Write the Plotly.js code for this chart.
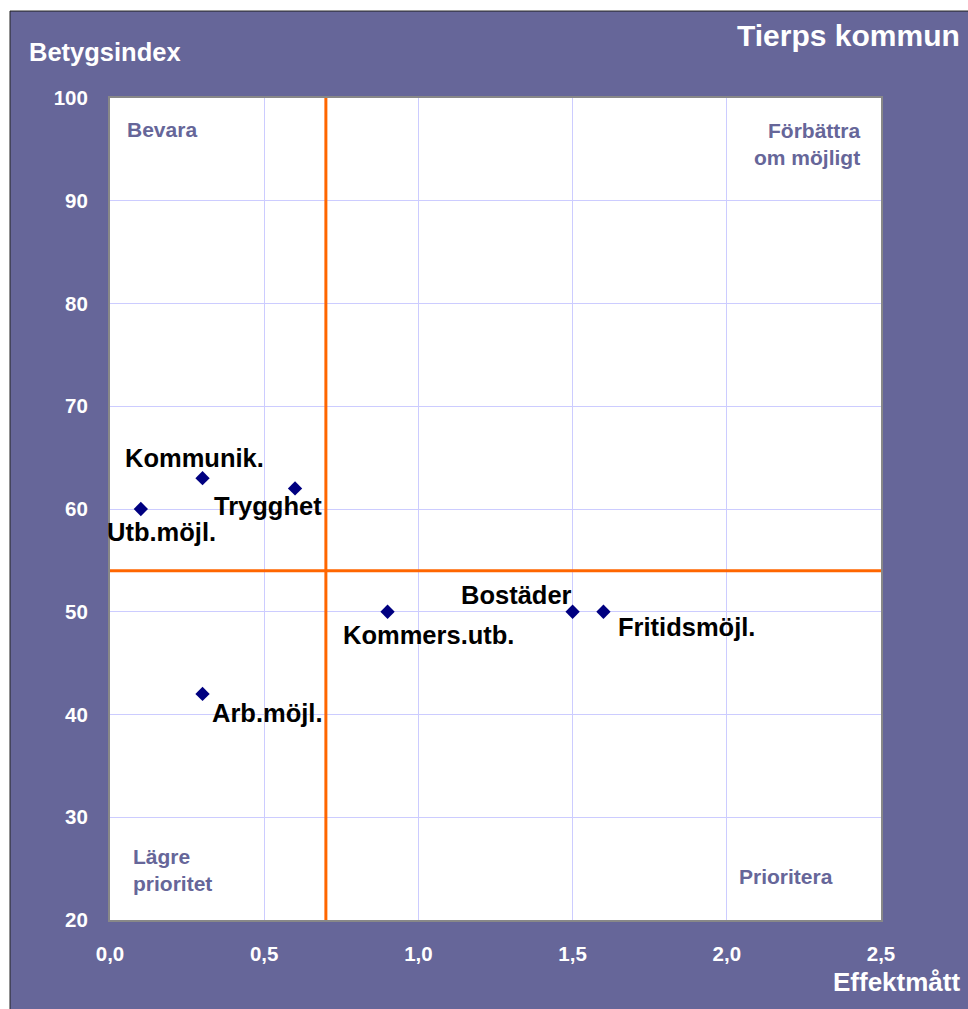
<!DOCTYPE html>
<html>
<head>
<meta charset="utf-8">
<script src="https://cdn.plot.ly/plotly-3.0.1.min.js"></script>
<style>
html,body{margin:0;padding:0;background:#fff;}
#chart{width:968px;height:1009px;}
</style>
</head>
<body>
<div id="chart"></div>
<script>
// Data
var categories = ["Utb.möjl.", "Kommunik.", "Trygghet", "Arb.möjl.", "Kommers.utb.", "Bostäder", "Fritidsmöjl."];
var effektmatt = [0.1, 0.3, 0.6, 0.3, 0.9, 1.5, 1.6];
var betygsindex = [60, 63, 62, 42, 50, 50, 50];
var xTickVals = [0, 0.5, 1.0, 1.5, 2.0, 2.5];
var xTickText = ["0,0", "0,5", "1,0", "1,5", "2,0", "2,5"];
var yTickVals = [20, 30, 40, 50, 60, 70, 80, 90, 100];
var thresholdX = [0.7];
var thresholdY = [54];
var quadrantLabels = ["Bevara", "Förbättra<br>om möjligt", "Lägre<br>prioritet", "Prioritera"];

// label offsets (px) relative to each point
var labelShift = [[21, -23], [-8, 20], [-27, -18], [65, -19], [41, -23], [-56, 17], [83, -15]];

var PURPLE = "#666699";
var FONT = "Liberation Sans, Arial, sans-serif";

var annotations = categories.map(function (c, i) {
  return {
    x: effektmatt[i], y: betygsindex[i], xref: "x", yref: "y",
    text: "<b>" + c + "</b>", showarrow: false,
    xshift: labelShift[i][0], yshift: labelShift[i][1],
    font: {family: FONT, size: 25.5, color: "#000000"}
  };
});

var qPos = [
  {x: 0.0195, y: 0.962, xanchor: "left", align: "left"},
  {x: 0.975, y: 0.9446, xanchor: "right", align: "right"},
  {x: 0.027, y: 0.0608, xanchor: "left", align: "left"},
  {x: 0.9405, y: 0.0535, xanchor: "right", align: "right"}
];
quadrantLabels.forEach(function (t, i) {
  annotations.push({
    x: qPos[i].x, y: qPos[i].y, xref: "paper", yref: "paper",
    xanchor: qPos[i].xanchor, yanchor: "middle", align: qPos[i].align,
    text: "<b>" + t + "</b>", showarrow: false,
    font: {family: FONT, size: 21, color: PURPLE}
  });
});

// axis titles / chart title as annotations
annotations.push({
  x: -0.1077, y: 1.056, xref: "paper", yref: "paper", xanchor: "left", yanchor: "middle",
  text: "<b>Betygsindex</b>", showarrow: false,
  font: {family: FONT, size: 25.5, color: "#ffffff"}
});
annotations.push({
  x: 1.1051, y: 1.0766, xref: "paper", yref: "paper", xanchor: "right", yanchor: "middle",
  text: "<b>Tierps kommun</b>", showarrow: false,
  font: {family: FONT, size: 30, color: "#ffffff"}
});
annotations.push({
  x: 1.1051, y: -0.0754, xref: "paper", yref: "paper", xanchor: "right", yanchor: "middle",
  text: "<b>Effektmått</b>", showarrow: false,
  font: {family: FONT, size: 26, color: "#ffffff"}
});

var shapes = [
  // white strips outside the purple frame
  {type: "rect", xref: "paper", yref: "paper", x0: -0.3, x1: 1.3, y0: 1.1058, y1: 1.3,
   fillcolor: "#ffffff", line: {width: 0}, layer: "below"},
  {type: "rect", xref: "paper", yref: "paper", x0: -0.3, x1: -0.1297, y0: -0.3, y1: 1.3,
   fillcolor: "#ffffff", line: {width: 0}, layer: "below"},
  // dark border of frame
  {type: "line", xref: "paper", yref: "paper", x0: -0.1297, x1: 1.3, y0: 1.1058, y1: 1.1058,
   line: {color: "#222222", width: 1}},
  {type: "line", xref: "paper", yref: "paper", x0: -0.1297, x1: -0.1297, y0: -0.3, y1: 1.1058,
   line: {color: "#222222", width: 1}},
  // threshold lines
  {type: "line", xref: "x", yref: "paper", x0: thresholdX[0], x1: thresholdX[0], y0: 0, y1: 1,
   line: {color: "#ff6600", width: 3}},
  {type: "line", xref: "paper", yref: "y", x0: 0, x1: 1, y0: thresholdY[0], y1: thresholdY[0],
   line: {color: "#ff6600", width: 3}}
];

var trace = {
  x: effektmatt, y: betygsindex, type: "scatter", mode: "markers",
  marker: {symbol: "diamond", size: 11, color: "#000080"},
  hoverinfo: "skip", showlegend: false, cliponaxis: false
};

var layout = {
  width: 968, height: 1009,
  margin: {l: 110, r: 87, t: 98, b: 89, pad: 0},
  paper_bgcolor: PURPLE,
  plot_bgcolor: "#ffffff",
  showlegend: false,
  xaxis: {
    range: [0, 2.5], tickvals: xTickVals, ticktext: xTickText,
    showgrid: true, gridcolor: "#ccccff", gridwidth: 1, zeroline: false,
    showline: true, linecolor: "#888888", linewidth: 2, mirror: true,
    ticks: "", ticklabelstandoff: 14,
    tickfont: {family: FONT, size: 20.5, color: "#ffffff", weight: "bold"},
    fixedrange: true
  },
  yaxis: {
    range: [20, 100], tickvals: yTickVals,
    showgrid: true, gridcolor: "#ccccff", gridwidth: 1, zeroline: false,
    showline: true, linecolor: "#888888", linewidth: 2, mirror: true,
    ticks: "", ticklabelstandoff: 16,
    tickfont: {family: FONT, size: 20.5, color: "#ffffff", weight: "bold"},
    fixedrange: true
  },
  shapes: shapes,
  annotations: annotations
};

Plotly.newPlot("chart", [trace], layout, {displayModeBar: false, staticPlot: true});
</script>
</body>
</html>
